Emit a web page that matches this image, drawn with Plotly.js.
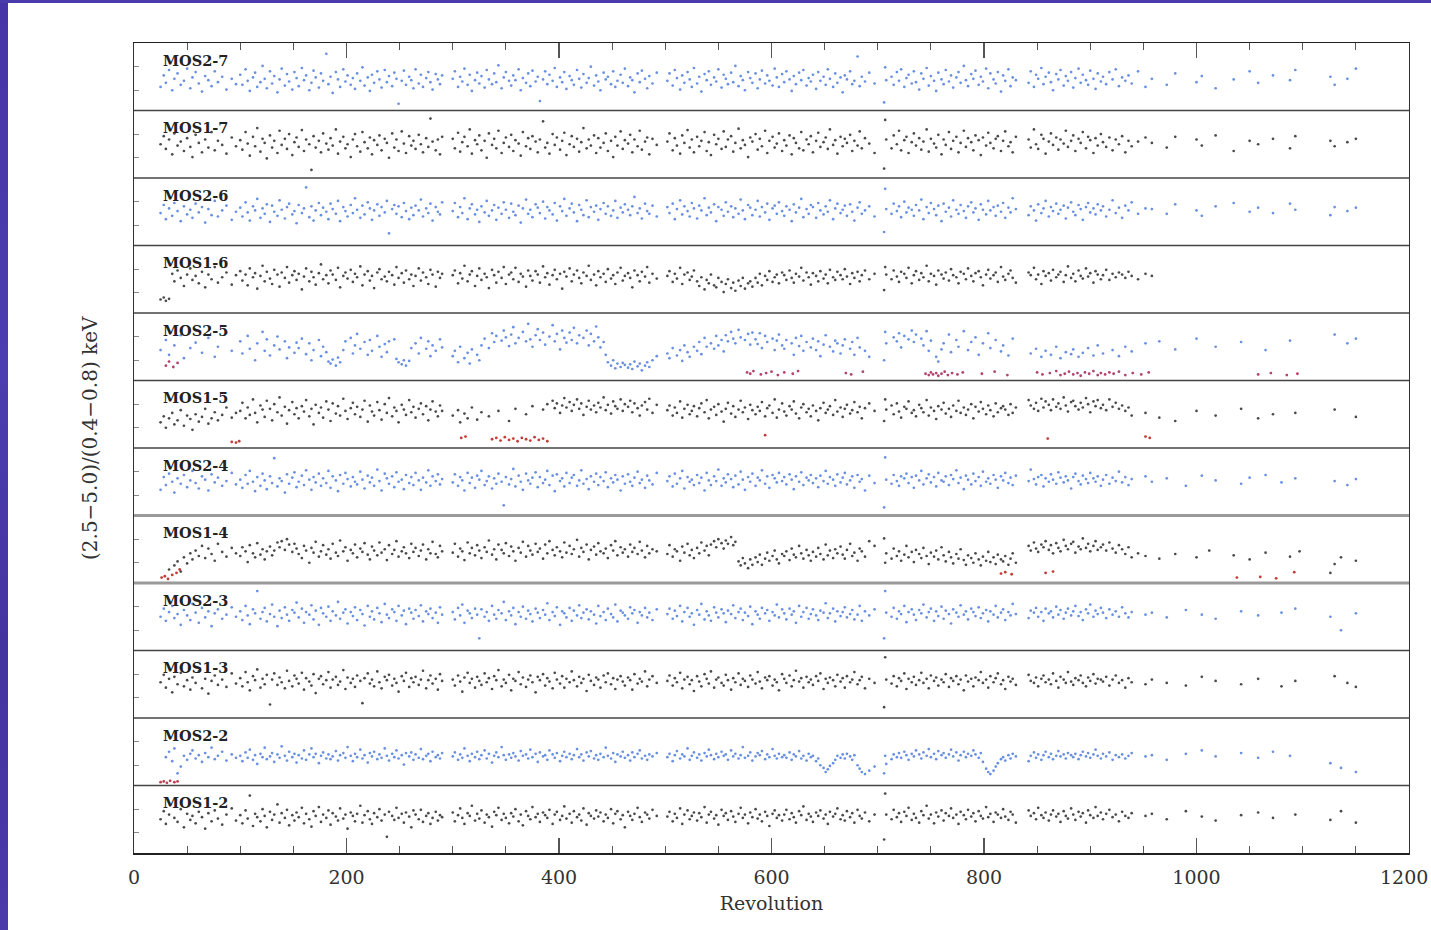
<!DOCTYPE html>
<html><head><meta charset="utf-8">
<script src="https://cdn.plot.ly/plotly-3.0.1.min.js"></script>
<style>
html,body{margin:0;padding:0;background:#fff;overflow:hidden}
#chart{position:absolute;left:0;top:0;width:1431px;height:930px}
#sl{position:absolute;left:0;top:0;width:8px;height:930px;background:linear-gradient(#4535a6,#4c3db0 40%,#4434a0 70%,#4a3aaa)}
#st{position:absolute;left:0;top:0;width:1431px;height:3px;background:#4a3bab}
</style></head><body>
<div id="chart"></div><div id="sl"></div><div id="st"></div>
<script>
// Revolution of each observation (shared by all CCD panels)
const revolution=[
25,28,30,33,36,38,41,44,47,50,53,55,
58,61,64,67,70,73,76,79,83,87,92,96,
100,102,105,107,109,112,114,116,119,121,123,125,
128,130,132,135,137,139,142,144,146,149,151,153,
155,158,160,162,165,167,169,171,174,176,178,181,
183,185,187,190,192,194,197,199,201,204,206,208,
210,213,215,217,220,222,224,226,229,231,233,236,
238,240,243,245,247,249,252,254,256,259,261,263,
265,268,270,272,275,277,279,281,284,286,288,290,
300,302,305,307,309,311,314,316,318,321,323,325,
327,330,332,334,337,339,341,343,346,348,350,353,
355,357,359,362,364,366,369,371,373,375,378,380,
382,385,387,389,391,394,396,398,401,403,405,407,
410,412,414,417,419,421,423,426,428,430,433,435,
437,439,442,444,446,449,451,453,455,458,460,462,
465,467,469,471,474,476,478,481,483,485,488,492,
502,504,507,509,511,514,516,518,521,523,525,527,
530,532,534,537,539,541,543,546,548,550,553,555,
557,559,562,564,566,569,571,573,575,578,580,582,
585,587,589,591,594,596,598,601,603,605,607,610,
612,614,617,619,621,623,626,628,630,633,635,637,
639,642,644,646,649,651,653,655,658,660,662,665,
667,669,671,674,676,678,681,683,685,688,692,697,
706,707,708,713,715,718,720,722,725,727,729,732,
734,736,739,741,743,746,748,750,753,755,757,760,
762,764,767,769,771,774,776,778,781,783,785,788,
790,792,795,797,799,802,804,806,809,811,813,816,
818,820,823,825,827,830,842,844,847,849,851,854,
856,858,861,863,865,868,870,872,875,877,879,882,
884,886,889,891,893,896,898,900,903,905,907,910,
912,915,918,921,924,927,930,933,936,939,945,952,
958,965,972,980,990,1000,1005,1012,1018,1035,1042,1050,
1058,1065,1072,1080,1088,1093,1097,1126,1130,1136,1142,1150];

const panelNames=["MOS2-7","MOS1-7","MOS2-6","MOS1-6","MOS2-5","MOS1-5","MOS2-4","MOS1-4","MOS2-3","MOS1-3","MOS2-2","MOS1-2"];

// Hardness ratio in relative units of each panel's height (0 = panel bottom, 100 = panel top)
const mos2_7=[
35,52,41,60,30,47,55,38,44,62,33,49,
57,40,28,51,45,36,58,42,50,31,47,39,
53,38,61,44,29,49,56,35,42,66,47,33,
58,40,51,27,46,62,37,54,43,31,57,48,
36,63,45,52,30,41,59,49,34,55,44,84,
39,50,26,57,46,35,61,43,52,38,48,32,
55,44,64,37,49,29,53,41,58,46,34,60,
42,51,36,56,47,10,44,59,38,50,45,33,
61,40,53,35,48,57,42,31,54,46,39,52,
47,58,35,50,43,62,38,53,29,45,56,40,
51,34,60,46,39,55,42,67,33,49,57,44,
37,52,45,61,30,48,41,55,36,59,43,50,
14,46,58,39,53,44,63,35,49,42,57,32,
51,45,38,60,47,34,54,41,48,65,37,52,
43,30,56,46,50,39,58,35,44,53,41,62,
36,49,45,27,55,42,59,47,33,51,40,56,
44,55,37,60,48,31,52,41,57,46,35,63,
40,50,28,54,45,58,38,49,43,61,34,53,
47,39,56,42,66,36,51,45,30,57,48,41,
55,33,46,59,40,52,44,37,62,49,35,54,
42,58,46,29,51,39,56,45,60,37,48,43,
53,32,57,44,50,38,61,47,35,55,41,49,
27,52,46,58,39,44,80,36,50,43,56,40,
12,64,45,50,38,57,44,61,35,48,53,40,
58,42,31,55,47,63,37,51,44,29,56,46,
39,60,43,52,34,49,57,41,66,45,36,54,
47,59,38,50,43,62,33,55,46,40,57,28,
52,44,61,36,49,45,41,58,35,53,47,63,
39,50,56,42,30,54,46,60,37,51,44,57,
34,48,62,41,53,45,38,59,47,32,55,43,
50,39,57,46,61,36,49,44,52,40,58,35,
47,null,38,55,null,42,51,null,33,46,null,58,
41,null,52,null,45,60,null,50,38,null,47,62];

const mos1_7=[
50,62,43,57,35,66,48,54,40,59,46,31,
64,52,38,57,45,68,41,55,49,36,60,47,
56,42,68,51,33,61,47,74,39,58,52,29,
63,45,55,37,70,49,58,43,65,34,53,60,
46,71,40,57,50,12,62,45,55,38,66,51,
42,59,48,72,36,54,61,44,50,31,57,65,
47,39,68,53,44,60,35,56,49,63,41,58,
52,30,66,45,57,40,69,51,37,62,48,55,
43,64,50,38,59,46,88,54,41,57,35,61,
58,44,67,39,53,61,47,72,36,56,50,63,
41,55,30,66,49,58,44,70,37,52,60,46,
64,40,56,51,33,68,47,59,43,62,54,38,
57,84,45,52,36,65,49,60,42,55,67,34,
50,62,46,58,39,53,74,44,57,48,63,37,
59,45,52,66,40,55,31,61,48,69,43,56,
51,64,38,57,47,70,42,54,60,35,58,49,
54,66,41,59,48,36,63,52,71,45,57,38,
61,47,55,68,40,53,34,64,50,58,43,69,
46,57,62,39,52,73,44,56,49,31,60,54,
65,42,58,47,70,37,55,61,45,51,66,40,
56,48,63,35,59,52,44,68,41,57,50,62,
38,55,67,46,53,60,43,72,49,56,36,61,
47,58,52,64,40,55,48,69,44,59,51,37,
14,86,57,44,63,50,70,41,56,61,37,53,
66,48,59,42,54,72,39,58,51,45,64,35,
57,49,68,43,55,61,38,52,70,46,59,53,
41,63,56,34,60,48,67,52,44,58,62,40,
55,69,47,53,38,61,57,45,72,50,43,64,
58,36,54,66,49,60,42,57,51,70,46,55,
63,40,58,52,68,44,61,56,37,59,48,65,
53,46,60,41,57,50,62,38,55,47,54,60,
52,null,45,61,null,57,48,null,63,40,null,55,
50,null,58,null,44,62,null,55,47,null,53,58];

const mos2_6=[
48,60,39,55,44,63,51,36,58,46,53,41,
62,49,57,34,54,45,66,43,52,59,38,50,
56,43,64,49,37,58,52,69,41,55,47,61,
35,59,50,44,67,53,40,57,62,46,51,33,
60,48,55,86,42,58,37,52,63,45,56,50,
39,62,54,47,66,36,57,51,43,60,48,70,
53,41,59,46,64,55,38,52,61,44,57,49,
66,18,54,60,47,58,42,63,51,39,56,45,
59,52,68,43,55,48,62,37,57,50,46,64,
51,63,42,57,48,70,39,55,61,46,53,35,
58,49,66,44,52,60,38,56,47,64,53,41,
62,50,45,59,34,55,68,47,53,42,61,56,
48,65,40,57,52,46,63,37,58,51,69,44,
55,62,49,36,60,53,45,67,42,57,50,59,
38,54,63,47,58,44,52,66,41,56,49,61,
53,45,58,72,48,55,40,62,51,47,59,43,
57,48,62,39,54,67,46,58,51,43,63,55,
40,59,52,70,45,56,49,61,36,57,53,44,
64,50,58,42,55,47,68,52,39,60,56,45,
53,66,43,57,49,62,38,55,59,47,64,51,
44,58,53,36,61,49,56,69,42,54,47,60,
57,41,63,52,46,58,50,67,39,55,62,48,
53,59,44,61,50,37,56,64,47,52,58,43,
20,84,54,47,62,51,58,42,65,49,56,53,
44,60,52,68,39,57,48,63,54,45,59,36,
62,50,56,43,67,53,47,60,51,41,58,64,
49,55,38,61,53,46,66,52,57,44,59,50,
63,41,56,49,70,54,45,58,52,37,61,48,
55,66,43,57,51,62,47,53,59,40,56,64,
50,45,60,54,38,57,63,49,55,46,61,52,
58,43,53,67,48,56,41,59,52,64,47,55,
54,null,47,61,null,52,44,null,58,63,null,50,
56,null,48,null,62,53,null,45,57,null,51,56];

const mos1_6=[
20,23,18,21,58,47,63,52,40,57,66,49,
55,44,61,38,57,50,68,45,53,60,42,56,
62,48,57,41,66,53,59,36,55,70,47,61,
51,43,64,57,39,60,52,68,45,56,62,49,
58,35,54,66,47,61,53,42,59,72,50,56,
44,63,57,49,67,38,55,60,51,64,46,58,
53,69,41,57,62,48,55,37,60,65,50,54,
47,61,56,42,68,52,59,45,63,50,57,40,
55,66,48,60,53,43,64,57,39,61,52,58,
56,63,44,59,51,70,47,57,62,40,55,66,
49,58,53,37,64,56,45,61,52,68,43,57,
60,50,67,46,58,54,39,63,55,48,62,57,
45,69,53,59,42,56,64,50,58,36,61,54,
66,47,57,63,52,44,60,55,70,49,57,41,
62,53,58,46,65,51,56,43,60,67,48,55,
59,52,38,63,56,47,61,54,68,45,58,51,
55,62,46,58,51,67,43,57,60,49,54,63,
47,40,53,35,49,44,57,41,38,52,46,31,
43,50,37,45,33,48,40,52,36,44,47,39,
52,45,58,41,55,49,62,46,53,57,44,60,
56,49,63,52,45,58,54,67,48,60,53,42,
59,55,47,62,51,57,44,64,53,49,61,56,
50,65,54,43,59,52,61,47,56,63,50,58,
34,68,57,50,63,54,46,61,58,52,67,44,
56,62,49,59,53,70,47,58,55,42,63,57,
51,60,48,65,56,53,44,61,58,50,66,55,
47,59,62,53,41,57,64,51,56,60,46,68,
54,49,58,63,52,45,60,56,67,50,57,43,
62,55,59,48,64,53,57,61,46,56,69,52,
58,47,63,55,51,66,54,59,45,62,57,50,
56,64,49,58,53,60,57,52,61,55,50,58,
55,null,null,null,null,null,null,null,null,null,null,null,
null,null,null,null,null,null,null,null,null,null,null,null];

const mos2_5=[
45,null,60,38,null,52,null,67,33,null,48,null,
56,null,41,null,63,null,35,50,null,71,44,null,
58,40,null,66,47,null,30,55,null,72,44,61,
37,null,52,65,46,null,58,33,49,null,41,56,
48,62,null,39,55,30,45,null,60,36,50,42,
28,25,31,22,34,27,45,58,null,63,40,52,
69,47,null,57,38,60,44,null,66,50,35,54,
42,58,null,61,32,27,24,30,22,29,48,null,
55,40,63,null,47,58,36,52,44,null,61,49,
36,44,27,50,null,33,41,25,46,null,38,30,
52,62,null,48,70,57,66,null,59,74,64,51,
68,79,55,63,null,72,58,84,61,50,67,76,
60,71,53,null,65,82,58,69,46,74,63,56,
71,60,78,55,67,null,63,74,52,69,58,80,
64,49,57,38,27,22,30,18,25,20,26,23,
19,24,17,28,21,25,15,22,27,20,30,36,
40,33,48,null,37,45,29,52,42,35,null,50,
44,57,39,63,50,null,55,47,66,52,60,43,
67,58,72,62,55,75,64,null,60,69,53,71,
61,54,70,48,66,57,null,62,45,59,68,52,
47,60,null,55,38,63,51,66,44,57,null,49,
62,45,58,36,53,67,null,50,43,59,55,40,
52,61,null,47,57,38,63,49,null,44,35,null,
30,72,55,null,64,58,70,49,66,null,61,74,
57,68,null,62,52,73,44,59,null,35,28,46,
55,null,68,42,null,60,50,null,73,null,45,57,
null,64,38,null,55,null,70,48,null,60,null,43,
52,null,37,null,62,null,null,40,null,47,null,35,
null,44,null,38,null,50,null,33,null,42,null,39,
46,null,35,null,41,null,48,null,37,null,52,null,
40,null,null,45,null,36,null,50,null,43,null,55,
null,58,null,46,null,62,null,null,50,null,57,null,
null,45,null,null,59,null,null,null,68,null,55,62];

const mos1_5=[
38,47,30,44,52,35,41,56,33,48,43,27,
50,39,46,58,36,44,53,41,49,60,45,52,
55,67,44,60,49,72,52,38,63,57,46,70,
58,41,65,53,75,48,61,36,56,68,50,59,
44,62,54,71,47,58,35,64,52,60,45,69,
57,40,66,51,62,48,73,55,43,59,67,50,
61,46,57,70,39,63,54,48,68,56,42,65,
52,74,47,60,55,38,64,57,49,71,53,61,
45,58,66,50,62,41,57,69,54,47,63,55,
48,null,56,38,null,51,44,null,60,null,42,null,
53,null,null,47,null,null,null,55,null,null,null,40,
null,null,58,null,null,null,50,null,null,62,null,null,
null,57,null,65,null,70,59,66,52,63,74,60,
68,55,64,72,58,66,49,61,70,57,63,53,
67,60,75,56,64,51,69,62,58,72,55,65,
61,70,53,66,59,48,63,68,57,73,52,64,
56,63,48,60,52,69,45,58,64,50,55,62,
47,59,66,53,71,44,57,61,49,65,54,39,
58,67,51,62,46,57,70,53,60,43,64,56,
50,61,55,68,47,59,63,52,72,45,57,66,
54,48,62,57,69,51,44,60,65,53,58,47,
63,55,41,59,67,52,57,62,49,71,54,60,
46,58,64,51,56,68,53,61,44,59,66,55,
40,72,57,63,50,66,54,45,61,58,69,52,
56,47,64,59,53,71,48,60,55,43,62,57,
67,51,58,46,63,55,70,52,60,49,57,65,
44,61,54,68,58,50,63,56,47,66,53,59,
62,57,49,65,52,60,71,63,58,67,55,73,
60,69,64,56,72,61,66,58,75,63,54,68,
70,62,57,67,60,74,65,53,69,62,71,59,
64,56,72,61,67,58,63,55,60,48,null,52,
null,45,null,40,null,55,null,null,48,null,58,null,
44,null,50,null,null,52,null,null,57,null,null,46];

const mos2_4=[
38,57,45,62,50,34,55,47,60,42,52,66,
48,40,58,53,37,61,49,56,44,51,63,46,
53,41,60,47,66,50,36,57,44,62,52,39,
58,48,85,43,55,51,34,61,47,56,64,42,
50,59,45,67,53,38,57,49,62,44,55,48,
66,41,58,52,36,60,47,63,54,43,57,50,
46,65,53,40,59,49,56,44,68,51,37,62,
55,47,58,42,64,50,53,39,60,48,57,45,
63,52,38,56,49,67,44,58,51,61,46,54,
49,61,44,57,52,37,63,48,56,41,59,53,
66,45,51,58,40,55,47,62,50,15,57,46,
54,69,43,59,50,38,62,52,47,56,64,42,
57,48,53,66,45,59,36,61,51,55,43,63,
48,56,60,44,52,67,47,54,39,58,50,62,
45,57,51,64,42,55,49,60,53,37,58,47,
61,50,44,56,65,48,53,41,59,52,46,63,
51,58,43,62,47,55,66,40,57,50,53,45,
60,48,56,37,63,52,45,58,51,68,44,55,
49,61,54,42,59,46,65,53,38,57,50,62,
44,56,52,67,47,58,41,60,55,49,63,51,
57,46,61,53,39,58,50,64,45,56,52,60,
48,55,42,59,51,66,47,57,53,44,61,49,
56,63,46,52,58,41,60,50,54,37,59,48,
12,86,53,47,60,51,44,58,55,62,48,57,
41,59,52,66,46,55,61,49,57,43,63,52,
50,58,45,60,54,67,48,56,39,59,53,46,
62,51,57,44,65,50,55,47,60,53,41,58,
52,63,48,56,45,59,51,68,54,46,57,60,
43,55,50,61,53,47,64,56,49,58,52,40,
57,62,51,46,59,54,48,63,55,50,58,44,
53,60,47,56,51,65,49,57,45,54,null,58,
50,null,55,null,44,null,59,null,52,null,47,56,
null,60,null,49,null,55,null,null,51,null,45,54];

const mos1_4=[
null,null,null,20,null,26,32,17,38,29,44,35,
48,40,55,37,51,43,33,58,46,39,52,44,
40,53,47,31,56,44,38,59,42,50,35,47,
54,41,48,60,53,62,49,65,57,46,58,51,
43,37,55,48,30,52,45,61,39,47,56,42,
50,36,58,45,40,63,47,53,33,49,44,57,
38,51,46,59,42,35,54,48,41,60,45,50,
34,56,43,49,62,39,47,53,44,37,58,46,
52,40,48,57,35,50,44,61,43,38,55,47,
45,58,39,51,47,34,60,44,52,41,56,48,
37,53,46,63,42,50,35,57,49,44,59,40,
54,47,33,52,45,61,39,55,48,42,58,46,
51,36,57,44,62,49,41,53,47,38,60,45,
55,43,50,64,39,52,46,57,35,49,54,42,
59,47,44,51,37,56,48,62,41,53,45,50,
39,57,46,52,43,61,48,38,55,44,50,47,
43,56,39,50,47,33,54,45,58,41,49,37,
52,44,60,48,55,41,57,62,53,65,59,51,
63,58,68,56,61,32,26,37,29,22,35,27,
38,31,42,27,36,45,33,40,48,35,29,43,
40,47,34,51,42,38,55,44,36,49,41,33,
46,39,52,43,35,57,41,48,37,50,44,54,
42,36,49,58,40,45,33,51,47,39,62,55,
66,30,44,36,51,40,47,33,42,55,38,46,
31,49,43,37,52,40,28,45,39,48,35,53,
41,32,46,38,29,43,36,50,34,27,41,37,
30,44,35,26,39,33,46,31,38,28,42,35,
32,40,27,36,44,30,55,48,60,51,46,57,
53,62,49,56,44,59,52,47,64,55,50,58,
61,45,54,50,66,52,58,47,55,62,49,53,
57,48,60,51,45,56,50,43,53,38,44,40,
null,36,null,43,null,38,null,48,null,41,null,35,
null,45,null,null,39,null,47,15,28,38,null,33];

const mos2_3=[
50,62,44,57,66,48,54,38,60,52,45,69,
56,41,63,49,58,36,55,61,47,53,64,50,
58,45,66,52,39,61,55,88,47,57,63,43,
54,68,50,36,59,48,64,53,44,60,56,71,
49,62,41,57,53,67,46,59,38,63,55,50,
65,44,58,52,72,47,56,61,40,57,51,64,
45,60,54,37,66,50,58,46,63,55,42,69,
53,48,61,57,44,66,52,59,39,62,56,47,
60,51,67,43,58,54,62,48,56,41,64,53,
57,46,63,52,68,41,59,55,48,62,53,18,
61,50,57,44,66,53,47,60,55,72,45,58,
52,63,39,57,50,65,47,59,54,43,62,56,
48,60,53,70,45,57,51,64,38,58,55,49,
63,44,59,52,67,48,56,61,46,58,53,40,
66,51,57,45,62,54,49,68,43,59,56,52,
47,64,55,60,41,57,52,63,49,56,45,61,
54,62,47,59,51,66,43,57,63,50,55,38,
60,53,69,46,58,52,44,64,56,49,61,55,
42,59,54,67,48,57,62,45,56,51,65,39,
58,53,47,63,55,60,44,57,52,68,49,61,
55,46,62,53,58,41,66,50,57,63,47,54,
61,52,45,59,56,70,48,55,62,43,58,51,
57,64,49,54,60,46,53,66,44,58,52,61,
18,88,56,50,63,47,58,54,66,42,57,61,
53,45,60,55,68,49,57,62,44,58,51,65,
47,59,54,40,61,56,50,67,53,58,46,62,
57,51,64,48,55,60,43,58,53,66,49,56,
61,45,57,52,69,54,48,59,56,63,50,57,
44,62,55,58,49,65,53,60,47,56,62,52,
58,66,51,57,45,61,55,68,50,59,54,63,
56,48,61,53,58,50,64,55,49,57,null,53,
56,null,49,null,60,null,53,null,47,null,58,null,
52,null,null,56,null,62,null,50,null,30,null,55];

const mos1_3=[
53,64,45,58,38,61,50,67,47,56,42,60,
52,69,44,58,36,55,63,49,57,46,66,51,
59,47,68,53,41,62,56,72,45,58,50,64,
20,57,66,49,60,53,44,70,55,47,63,58,
51,67,42,59,54,48,65,37,58,62,50,56,
68,45,57,61,49,54,71,43,60,52,58,46,
63,55,22,59,66,51,57,47,69,53,44,61,
56,64,48,58,52,39,62,55,67,46,59,53,
61,49,57,70,44,56,63,51,58,42,65,55,
57,48,63,54,39,60,67,52,58,45,61,55,
49,66,53,59,43,62,56,71,47,57,52,64,
41,58,55,68,50,60,46,57,63,53,38,61,
56,65,48,59,54,44,67,57,51,62,45,58,
53,69,56,47,61,52,58,40,64,55,49,60,
57,45,63,53,66,50,59,43,57,62,54,48,
60,56,42,65,51,58,54,69,47,57,62,52,
55,63,48,59,53,67,44,57,61,50,56,40,
62,54,47,65,58,51,69,45,57,60,52,48,
64,56,42,59,53,66,49,58,55,46,63,57,
51,68,54,44,60,56,62,48,57,53,41,65,
58,52,63,47,56,70,54,59,45,61,53,57,
49,62,55,66,43,58,52,60,56,47,64,54,
59,45,62,53,57,68,50,56,61,44,58,52,
16,90,57,51,62,47,59,55,66,43,58,53,
61,49,56,67,52,58,44,63,55,60,48,57,
53,65,46,59,55,62,50,57,41,63,54,58,
47,60,56,68,52,57,45,62,53,59,66,50,
56,43,61,54,58,49,64,55,52,60,47,58,
63,53,57,50,66,55,45,61,57,52,68,54,
49,59,56,63,52,47,60,55,65,51,58,57,
54,61,48,57,63,52,56,45,59,53,null,50,
57,null,52,null,48,null,61,null,55,null,50,null,
58,null,null,47,null,55,null,null,62,null,52,46];

const mos2_2=[
null,null,42,50,36,55,18,28,44,38,47,52,
40,45,35,48,42,56,39,44,50,37,46,41,
44,36,49,41,53,38,45,32,47,42,56,39,
43,48,35,46,41,58,44,37,50,42,47,34,
45,40,52,38,46,55,42,47,33,44,49,40,
46,39,43,51,37,45,48,41,57,44,36,47,
42,53,40,45,34,48,43,50,39,46,41,55,
44,37,47,42,52,40,45,31,48,43,49,38,
46,41,54,39,44,47,36,50,42,45,40,48,
43,49,38,46,41,55,44,36,47,42,50,39,
45,52,40,47,34,44,49,42,57,45,38,46,
41,48,43,37,51,44,46,40,53,42,47,35,
49,43,45,38,52,46,41,48,36,44,50,42,
47,39,45,54,42,46,37,49,43,51,40,45,
38,47,42,56,44,40,48,35,46,43,50,41,
45,37,49,42,47,52,40,44,38,46,43,48,
42,47,36,45,51,40,46,43,55,38,44,49,
41,46,37,48,43,53,45,39,47,42,50,44,
46,38,52,43,47,40,45,57,41,44,49,37,
43,48,45,51,39,46,42,54,44,40,47,42,
45,41,49,38,46,43,51,40,44,37,47,42,
44,36,40,30,26,20,24,29,33,38,44,41,
46,40,47,43,38,45,30,25,20,17,22,28,
18,44,32,39,46,42,48,41,50,45,38,47,
43,52,46,40,49,44,54,42,47,39,51,45,
48,41,46,53,43,49,37,45,50,42,47,44,
52,46,41,48,35,25,20,17,22,28,33,39,
42,37,45,40,47,43,36,44,49,41,46,38,
45,50,42,47,39,44,51,43,46,40,48,45,
42,47,39,45,50,43,48,41,46,53,44,40,
47,43,49,38,45,42,46,40,44,48,null,43,
45,null,38,null,47,null,52,null,43,null,48,null,
41,null,50,null,44,null,null,33,null,26,null,20];

const mos1_2=[
50,62,43,57,null,52,46,65,38,58,49,55,
44,61,53,36,59,47,63,51,42,57,66,48,
56,44,63,51,85,40,58,53,47,65,55,38,
61,49,57,72,45,59,52,64,41,56,48,60,
53,67,44,58,50,39,62,55,68,46,57,52,
63,42,59,54,48,66,51,57,36,60,55,47,
58,70,45,56,62,50,43,59,53,65,48,57,
24,61,55,49,67,52,58,45,60,54,38,63,
57,50,64,46,55,59,43,52,61,48,56,53,
60,47,56,66,52,43,59,55,70,48,58,51,
63,45,57,53,39,61,56,67,49,58,52,44,
59,54,65,47,57,41,62,55,50,68,53,58,
46,60,56,52,64,43,57,61,49,55,69,51,
58,45,62,53,57,48,66,42,59,55,51,63,
54,60,47,57,52,65,44,58,62,50,56,38,
61,55,49,58,67,53,46,60,57,51,64,55,
54,61,47,58,52,66,43,57,63,50,55,60,
48,59,53,68,45,57,61,51,56,42,64,55,
59,49,62,54,46,58,67,52,57,44,60,53,
65,51,57,47,61,55,40,58,63,52,56,48,
57,64,50,59,53,45,62,56,69,49,58,54,
46,60,55,63,51,57,43,61,54,58,66,50,
56,48,62,53,59,45,64,55,51,60,47,57,
20,88,57,50,64,53,59,46,61,55,67,49,
58,52,45,62,56,70,51,57,44,60,54,63,
48,59,55,66,52,57,43,61,56,50,64,54,
59,47,62,55,51,68,53,58,46,60,57,52,
65,54,49,61,57,45,63,55,59,50,67,56,
52,60,48,57,63,54,58,46,62,55,51,66,
57,49,61,54,59,45,63,56,52,68,55,60,
50,58,64,53,57,47,61,55,52,59,null,55,
58,null,50,null,62,null,54,null,48,null,56,null,
60,null,52,null,null,57,null,49,null,62,null,45];

// Flagged (low-ratio) observations, drawn in red
const flagMos2_5Rev=[30,33,37,41,577,580,583,590,595,600,606,612,620,625,670,675,686,
745,748,750,752,755,757,760,763,766,770,775,780,798,810,822,
850,855,862,868,872,876,880,884,888,891,895,899,903,907,910,914,918,922,927,933,940,948,955,
1058,1070,1085,1095];
const flagMos2_5Val=[22,28,20,26,12,10,14,9,11,13,8,12,10,14,11,9,13,
10,8,12,9,11,7,10,13,8,11,9,12,10,13,8,
12,9,11,14,8,10,13,9,11,7,12,10,14,8,11,9,12,10,13,8,11,9,12,
9,11,8,10];
const flagMos1_5Rev=[92,96,99,308,312,337,341,345,349,353,357,361,365,369,373,377,381,385,389,594,860,952,956];
const flagMos1_5Val=[9,8,10,15,17,13,15,11,16,12,14,10,15,13,11,16,12,14,10,19,14,17,15];
const flagMos1_4Rev=[26,29,32,36,40,43,816,820,826,858,865,1038,1060,1075,1092];
const flagMos1_4Val=[8,10,6,12,15,20,14,16,13,15,17,8,9,7,16];
const flagMos2_2Rev=[25,28,31,34,38,41];
const flagMos2_2Val=[5,6,4,7,5,6];

const xTickVals=[0,200,400,600,800,1000,1200];
const xTickText=["0","200","400","600","800","1000",""];
const lastTickLabel="1200";
const xMinorVals=[50,100,150,250,300,350,450,500,550,650,700,750,850,900,950,1050,1100,1150];

const panelSeries=[mos2_7,mos1_7,mos2_6,mos1_6,mos2_5,mos1_5,mos2_4,mos1_4,mos2_3,mos1_3,mos2_2,mos1_2];
const flags={4:[flagMos2_5Rev,flagMos2_5Val,"#a8305e"],5:[flagMos1_5Rev,flagMos1_5Val,"#bb2a22"],
             7:[flagMos1_4Rev,flagMos1_4Val,"#bb2a22"],10:[flagMos2_2Rev,flagMos2_2Val,"#b52a40"]};

const N=panelNames.length;
const FONT="DejaVu Serif";
const traces=[], annotations=[], shapes=[];
const layout={width:1431,height:930,margin:{l:134,r:22,t:43,b:77},
  paper_bgcolor:"#fff",plot_bgcolor:"#fff",showlegend:false,
  font:{family:FONT,color:"#222"}};

for(let i=0;i<N;i++){
  const ya = i===0?"y":"y"+(i+1);
  const isMos2 = panelNames[i].startsWith("MOS2");
  traces.push({type:"scatter",mode:"markers",x:revolution,y:panelSeries[i],xaxis:"x",yaxis:ya,
    marker:{size:2.7,color:isMos2?"#4f7bdc":"#2a2a2a",opacity:0.85},hoverinfo:"skip"});
  if(flags[i]){
    traces.push({type:"scatter",mode:"markers",x:flags[i][0],y:flags[i][1],xaxis:"x",yaxis:ya,
      marker:{size:2.8,color:flags[i][2],opacity:0.9},hoverinfo:"skip"});
  }
  layout[i===0?"yaxis":"yaxis"+(i+1)]={domain:[(N-1-i)/N,(N-i)/N],range:[0,100],anchor:"x",
    showticklabels:false,showgrid:false,zeroline:false,showline:true,mirror:true,
    linecolor:"#333",linewidth:1.2,ticks:"inside",ticklen:5,tickcolor:"#888",tickvals:[30,65]};
  annotations.push({text:panelNames[i],xref:"paper",yref:"paper",
    x:27/1275,y:(793-67.5*i)/810,xanchor:"left",yanchor:"middle",showarrow:false,
    font:{family:FONT,size:14.5,color:"#222",weight:"bold"}});
  if(i>0){
    const thick=(i===7||i===8);
    shapes.push({type:"line",xref:"paper",yref:"paper",x0:0,x1:1,y0:(N-i)/N,y1:(N-i)/N,
      line:{color:thick?"#9a9a9a":"#444",width:thick?3:1.3}});
  }
}
// empty trace so the mirrored top axis is drawn
traces.push({type:"scatter",mode:"markers",x:[],y:[],xaxis:"x2",yaxis:"y",hoverinfo:"skip"});

layout.xaxis={range:[0,1200],anchor:"y12",tickvals:xTickVals,ticktext:xTickText,
  ticks:"inside",ticklen:15,tickwidth:1.5,tickcolor:"#555",
  minor:{tickvals:xMinorVals,ticks:"inside",ticklen:7,tickcolor:"#555",tickwidth:1.2},
  showline:true,linecolor:"#222",linewidth:1.5,showgrid:false,zeroline:false,
  tickfont:{family:FONT,size:19,color:"#333"},ticklabelstandoff:7,
  title:{text:"Revolution",font:{family:FONT,size:19,color:"#333"},standoff:9}};
layout.xaxis2={range:[0,1200],anchor:"y",overlaying:"x",side:"top",tickvals:xTickVals,
  showticklabels:false,ticks:"inside",ticklen:15,tickwidth:1.5,tickcolor:"#555",
  minor:{tickvals:xMinorVals,ticks:"inside",ticklen:7,tickcolor:"#555",tickwidth:1.2},
  showline:true,linecolor:"#222",linewidth:1.5,showgrid:false,zeroline:false};

// last tick label nudged a few pixels left so it stays inside the page
annotations.push({text:lastTickLabel,xref:"paper",yref:"paper",x:(1404-134)/1275,y:-(877-853)/810,
  xanchor:"center",yanchor:"middle",showarrow:false,font:{family:FONT,size:19,color:"#333"}});
annotations.push({text:"(2.5\u22125.0)/(0.4\u22120.8) keV",xref:"paper",yref:"paper",
  x:(90-134)/1275,y:(853-438)/810,xanchor:"center",yanchor:"middle",textangle:-90,showarrow:false,
  font:{family:FONT,size:20,color:"#333"}});
layout.annotations=annotations;
layout.shapes=shapes;

Plotly.newPlot("chart",traces,layout,{staticPlot:true,displayModeBar:false});
</script>
</body></html>
